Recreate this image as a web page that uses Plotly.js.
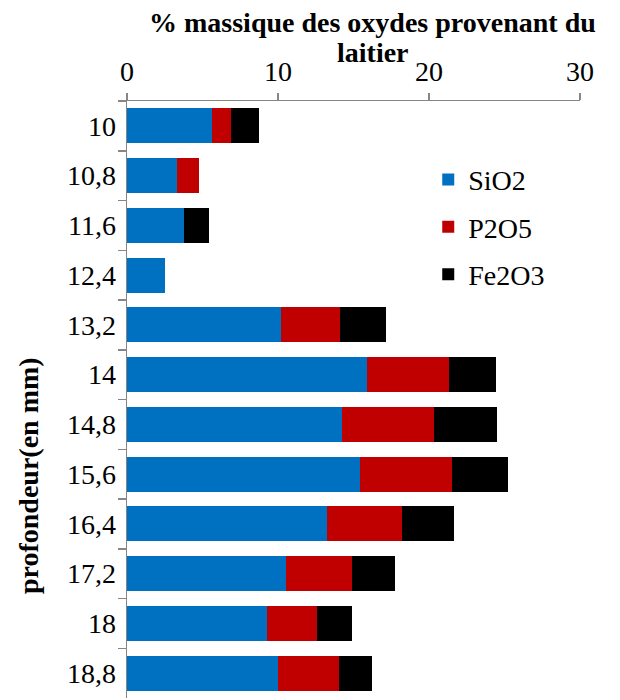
<!DOCTYPE html>
<html>
<head>
<meta charset="utf-8">
<script src="https://cdn.plot.ly/plotly-3.0.1.min.js"></script>
<style>html,body{margin:0;padding:0;background:#fff;}</style>
</head>
<body>
<div id="plot"></div>
<script>
const depths = ["10","10,8","11,6","12,4","13,2","14","14,8","15,6","16,4","17,2","18","18,8"];
const sio2  = [5.6, 3.33, 3.79, 2.53, 10.17, 15.9, 14.27, 15.42, 13.24, 10.5, 9.29, 9.99];
const p2o5  = [1.3, 1.45, 0, 0, 3.95, 5.41, 6.05, 6.11, 5.0, 4.39, 3.26, 4.08];
const fe2o3 = [1.83, 0, 1.66, 0, 3.02, 3.13, 4.19, 3.73, 3.44, 2.89, 2.36, 2.14];
const seriesNames = ["SiO2","P2O5","Fe2O3"];
const colors = ["#0070C0","#C00000","#000000"];
const titleLines = ["% massique des oxydes provenant du", "laitier"];
const yTitle = "profondeur(en mm)";

const fnt = {family: "Liberation Serif", size: 28, color: "#000"};
const data = [sio2, p2o5, fe2o3].map((vals, i) => ({
  type: "bar", orientation: "h", y: depths, x: vals, name: seriesNames[i],
  legendgroup: "g" + i,
  marker: {color: colors[i], line: {width: 0}}
}));

const layout = {
  width: 620, height: 698,
  margin: {l: 127, r: 40, t: 101, b: 0},
  barmode: "stack", bargap: 0.3,
  paper_bgcolor: "#fff", plot_bgcolor: "#fff",
  font: fnt,
  showlegend: true,
  legend: {x: 0.665, y: 0.91, xanchor: "left", yanchor: "top", bgcolor: "rgba(0,0,0,0)",
           font: fnt, tracegroupgap: 8, itemwidth: 30},
  xaxis: {side: "top", range: [0, 30], dtick: 10, tick0: 0, showgrid: false, zeroline: false,
          showline: true, linecolor: "#868686", linewidth: 1.5, ticks: "outside", ticklen: 7,
          tickcolor: "#868686", tickwidth: 1.5, tickfont: fnt},
  yaxis: {type: "category", autorange: "reversed", showgrid: false, zeroline: false,
          showline: true, linecolor: "#868686", linewidth: 1.5, ticks: "outside", ticklen: 8,
          tickcolor: "#868686", tickwidth: 1.5, tickson: "boundaries", ticklabelstandoff: 4,
          tickfont: fnt},
  annotations: [
    {text: "<b>" + titleLines[0] + "</b>", xref: "paper", yref: "paper",
     x: 0.543, y: 1.132, xanchor: "center", yanchor: "middle", showarrow: false, font: fnt},
    {text: "<b>" + titleLines[1] + "</b>", xref: "paper", yref: "paper",
     x: 0.543, y: 1.082, xanchor: "center", yanchor: "middle", showarrow: false, font: fnt},
    {text: "<b>" + yTitle + "</b>", textangle: -90, xref: "paper", yref: "paper",
     x: -0.216, y: 0.372, xanchor: "center", yanchor: "middle", showarrow: false, font: fnt}]
};
Plotly.newPlot("plot", data, layout, {staticPlot: true});
</script>
</body>
</html>
